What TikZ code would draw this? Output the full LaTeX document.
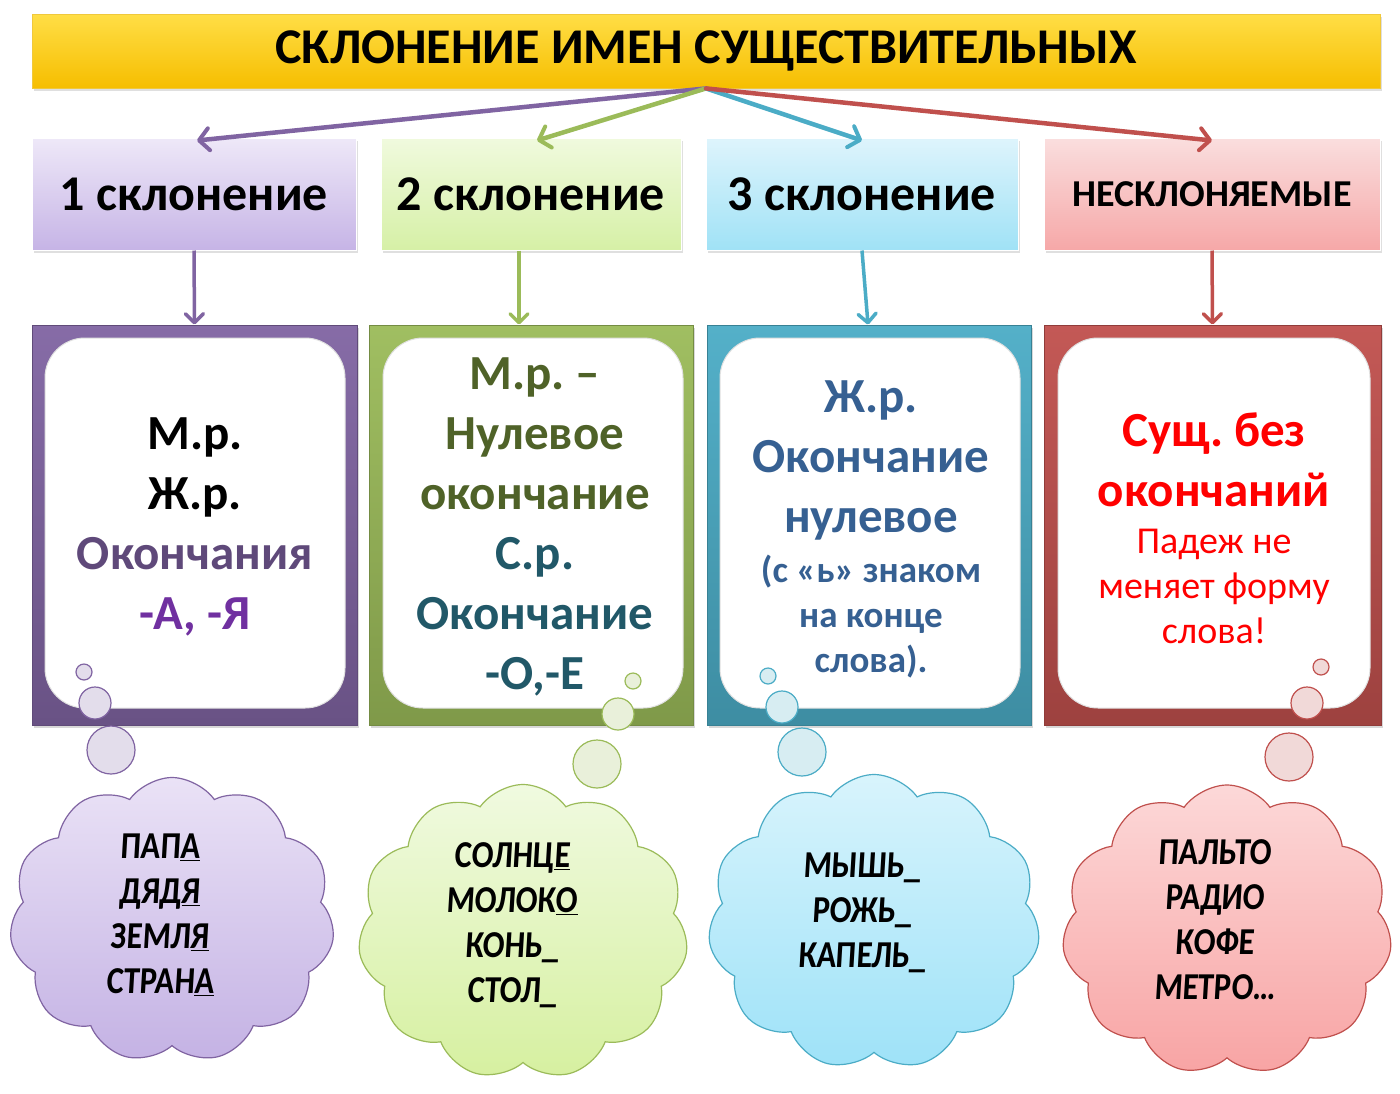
\documentclass[tikz,border=0pt]{standalone}
\usepackage{fontspec}
\setmainfont{Carlito}
\newfontfamily\handfont[FakeSlant=0.06,FakeStretch=0.85]{Carlito}
\usetikzlibrary{arrows.meta,shapes.symbols,shadows}
\definecolor{pur}{HTML}{8064A2}
\definecolor{grn}{HTML}{9BBB59}
\definecolor{blu}{HTML}{4BACC6}
\definecolor{red0}{HTML}{C0504D}
\definecolor{purtxt}{HTML}{5F497A}
\definecolor{purtxt2}{HTML}{7030A0}
\definecolor{olive}{HTML}{4F6228}
\definecolor{teal0}{HTML}{215868}
\definecolor{steel}{HTML}{366092}
\frenchspacing
\begin{document}
\frenchspacing
\begin{tikzpicture}[x=1pt,y=-1pt,
  titlebox/.style={minimum width=1348pt,minimum height=74pt,shade,top color={rgb,255:red,255;green,222;blue,70},bottom color={rgb,255:red,246;green,190;blue,0},draw={rgb,255:red,240;green,200;blue,60},line width=0.8pt,drop shadow={shadow xshift=2pt,shadow yshift=-3pt,opacity=0.25},font=\fontsize{50}{54}\selectfont\bfseries},
  hdr/.style={minimum height=112pt,shade,draw=white,line width=1pt,drop shadow={shadow xshift=2pt,shadow yshift=-3pt,opacity=0.25},font=\fontsize{50}{54}\selectfont\bfseries,text=black},
  frame/.style={minimum height=400pt,draw=#1!75!black,line width=1pt,shade,top color=#1!95!white,bottom color=#1!82!black,drop shadow={shadow xshift=2pt,shadow yshift=-3pt,opacity=0.3}},
  inner/.style={minimum height=370pt,rounded corners=40pt,fill=white,draw=black!12,line width=1pt},
  arr/.style={line width=4.5pt,line cap=round,-{Straight Barb[length=10pt,width=22pt,line width=4pt,round]}},
  darr/.style={line width=3.5pt,-{Straight Barb[length=9pt,width=18pt,line width=3.5pt,round]}},
  bub/.style={circle,draw=#1,line width=1.2pt,fill=#1!22!white,inner sep=0pt},
  cld/.style={cloud,cloud puffs=11,cloud puff arc=110,aspect=1.14,draw=#1,line width=1.2pt,shade,inner sep=0pt},
  big/.style={align=center,font=\fontsize{49}{60}\selectfont\bfseries},
  small/.style={align=center,font=\fontsize{38}{45}\selectfont},
  hand/.style={align=center,font=\handfont\bfseries\fontsize{38}{45}\selectfont,text=black}
]
\useasboundingbox (0,0) rectangle (1400,1093);
\fill[white] (0,0) rectangle (1400,1093);

% title
\node[titlebox] (title) at (706,51) {СКЛОНЕНИЕ ИМЕН СУЩЕСТВИТЕЛЬНЫХ};

% headers
\node[hdr,minimum width=324pt,top color={rgb,255:red,238;green,232;blue,248},bottom color={rgb,255:red,198;green,180;blue,230}] (h1) at (194,194) {1 склонение};
\node[hdr,minimum width=300pt,top color={rgb,255:red,240;green,250;blue,222},bottom color={rgb,255:red,214;green,240;blue,166}] (h2) at (531,194) {2 склонение};
\node[hdr,minimum width=312pt,top color={rgb,255:red,222;green,244;blue,252},bottom color={rgb,255:red,160;green,226;blue,246}] (h3) at (862,194) {3 склонение};
\node[hdr,minimum width=336pt,top color={rgb,255:red,250;green,222;blue,222},bottom color={rgb,255:red,246;green,168;blue,168},font=\fontsize{38}{42}\selectfont\bfseries] (h4) at (1212,194) {НЕСКЛОНЯЕМЫЕ};

% arrows from title
\draw[arr,pur] (title.south) -- ([xshift=3pt,yshift=-3pt]h1.north);
\draw[arr,grn] (title.south) -- ([xshift=6pt,yshift=-3pt]h2.north);
\draw[arr,blu] (title.south) -- ([yshift=-3pt]h3.north);
\draw[arr,red0] (title.south) -- ([yshift=-3pt]h4.north);

% frames
\node[frame=pur,minimum width=325pt] (f1) at (194.5,525) {};
\node[frame=grn,minimum width=324pt] (f2) at (531,525) {};
\node[frame=blu,minimum width=324pt] (f3) at (869,525) {};
\node[frame=red0,minimum width=337pt] (f4) at (1212.5,525) {};

\node[inner,minimum width=300pt] (i1) at (195,523) {};
\node[inner,minimum width=300pt] (i2) at (533,523) {};
\node[inner,minimum width=300pt] (i3) at (870,523) {};
\node[inner,minimum width=312pt] (i4) at (1214,523) {};

% down arrows
\draw[darr,pur] (h1.south) -- (f1.north);
\draw[darr,grn] ([xshift=-12pt]h2.south) -- ([xshift=-12pt]f2.north);
\draw[darr,blu] (h3.south) -- ([xshift=-1pt]f3.north);
\draw[darr,red0] (h4.south) -- (f4.north);

% frame texts
\node[big] (t1) at (195,527) {М.р.\\Ж.р.\\{\color{purtxt}Окончания}\\{\color{purtxt2}-А, -Я}};
\node[big] (t2) at (535,527) {{\color{olive}М.р. –}\\{\color{olive}Нулевое}\\{\color{olive}окончание}\\{\color{teal0}С.р.}\\{\color{teal0}Окончание}\\{\color{teal0}-О,-Е}};
\node[big,text=steel] (t3a) at (871,460) {Ж.р.\\Окончание\\нулевое};
\node[small,text=steel,font=\fontsize{37}{45}\selectfont\bfseries] (t3b) at (871,617) {(с «ь» знаком\\на конце\\слова).};
\node[big,text=red] (t4a) at (1214,460) {Сущ. без\\окончаний};
\node[small,text=red] (t4b) at (1214,586) {Падеж не\\меняет форму\\слова!};

% bubbles
\node[bub=pur,minimum size=16pt] (b1a) at (84,672) {};
\node[bub=pur,minimum size=32pt] (b1b) at (95,703) {};
\node[bub=pur,minimum size=48pt] (b1c) at (111,750) {};
\node[bub=grn,minimum size=16pt] (b2a) at (633,681) {};
\node[bub=grn,minimum size=32pt] (b2b) at (618,714) {};
\node[bub=grn,minimum size=48pt] (b2c) at (597,764) {};
\node[bub=blu,minimum size=16pt] (b3a) at (768,676) {};
\node[bub=blu,minimum size=32pt] (b3b) at (782,707) {};
\node[bub=blu,minimum size=48pt] (b3c) at (802,752) {};
\node[bub=red0,minimum size=16pt] (b4a) at (1321,667) {};
\node[bub=red0,minimum size=32pt] (b4b) at (1307,703) {};
\node[bub=red0,minimum size=48pt] (b4c) at (1289,757) {};

% clouds
\node[cld=pur,minimum width=325pt,minimum height=285pt,top color={rgb,255:red,234;green,226;blue,246},bottom color={rgb,255:red,196;green,178;blue,228}] (c1) at (172,920) {};
\node[cld=grn,minimum width=330pt,minimum height=295pt,top color={rgb,255:red,240;green,250;blue,224},bottom color={rgb,255:red,214;green,240;blue,160}] (c2) at (523,932) {};
\node[cld=blu,minimum width=332pt,minimum height=295pt,top color={rgb,255:red,216;green,244;blue,252},bottom color={rgb,255:red,158;green,226;blue,248}] (c3) at (874,922) {};
\node[cld=red0,minimum width=330pt,minimum height=290pt,top color={rgb,255:red,252;green,216;blue,216},bottom color={rgb,255:red,248;green,164;blue,164}] (c4) at (1227,930) {};

% cloud texts
\node[hand] (w1) at (160,915) {ПАП\underline{А}\\ДЯД\underline{Я}\\ЗЕМЛ\underline{Я}\\СТРАН\underline{А}};
\node[hand] (w2) at (512,925) {СОЛНЦ\underline{Е}\\МОЛОК\underline{О}\\КОНЬ\_\\СТОЛ\_};
\node[hand] (w3) at (862,913) {МЫШЬ\_\\РОЖЬ\_\\КАПЕЛЬ\_};
\node[hand] (w4) at (1215,920) {ПАЛЬТО\\РАДИО\\КОФЕ\\МЕТРО…};
\end{tikzpicture}
\end{document}
